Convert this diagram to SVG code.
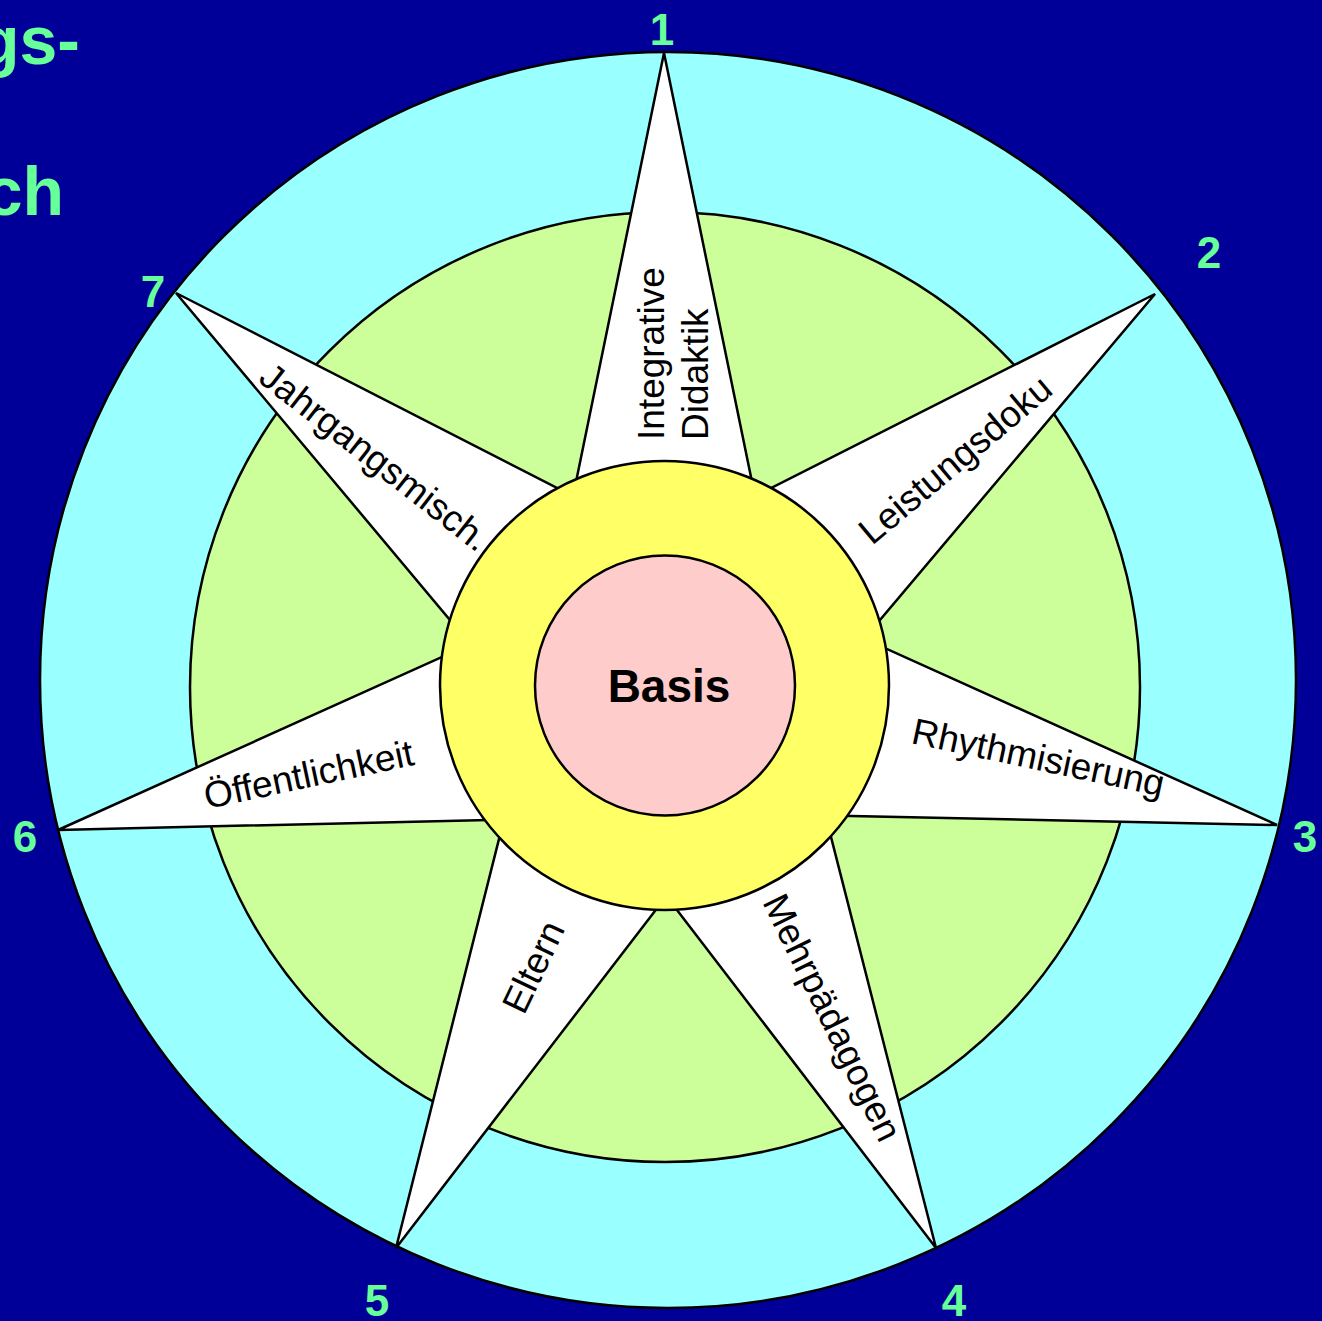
<svg xmlns="http://www.w3.org/2000/svg" width="1322" height="1321" viewBox="0 0 1322 1321">
  <style>
    .ring { stroke: #000; stroke-width: 2.5; }
    .arm { fill: #fff; stroke: #000; stroke-width: 2.5; stroke-linejoin: miter; }
    .lbl { font-family: "Liberation Sans", Arial, sans-serif; font-size: 37px; fill: #000; }
    .num { font-family: "Liberation Sans", Arial, sans-serif; font-size: 44px; font-weight: bold; fill: #66FF99; text-anchor: middle; }
    .title { font-family: "Liberation Sans", Arial, sans-serif; font-size: 68px; font-weight: bold; fill: #66FF99; text-anchor: end; }
  </style>
  <rect x="0" y="0" width="1322" height="1321" fill="#000099"/>
  <g id="title">
    <text class="title" x="80" y="64">gs-</text>
    <text class="title" x="64" y="215">ch</text>
  </g>
  <g id="outer-ring"><circle class="ring" cx="668" cy="680" r="628" fill="#99FFFF"/></g>
  <g id="middle-ring"><circle class="ring" cx="665" cy="687" r="475" fill="#CCFF99"/></g>

  <g id="arm1">
    <polygon class="arm" points="664,53 759.7,519.4 568.3,519.4"/>
    <text class="lbl" transform="translate(664,440) rotate(-90)">Integrative</text>
    <text class="lbl" transform="translate(708,440) rotate(-90)">Didaktik</text>
    <text class="num" x="662" y="45">1</text>
  </g>
  <g id="arm2">
    <polygon class="arm" points="1155,294 852.5,652.6 734.8,506.3"/>
    <text class="lbl" transform="translate(872,546) rotate(-40)">Leistungsdoku</text>
    <text class="num" x="1209" y="268">2</text>
  </g>
  <g id="arm3">
    <polygon class="arm" points="1277,825 804,815.1 848,631.4"/>
    <text class="lbl" transform="translate(910,743) rotate(12)">Rhythmisierung</text>
    <text class="num" x="1305" y="852">3</text>
  </g>
  <g id="arm4">
    <polygon class="arm" points="936,1248 651.1,876.2 820.5,795.9"/>
    <text class="lbl" transform="translate(762,902) rotate(64)">Mehrpädagogen</text>
    <text class="num" x="954" y="1316">4</text>
  </g>
  <g id="arm5">
    <polygon class="arm" points="396,1248 509.3,798.1 680.9,877.3"/>
    <text class="lbl" transform="translate(524,1016) rotate(-64.5)">Eltern</text>
    <text class="num" x="377" y="1316">5</text>
  </g>
  <g id="arm6">
    <polygon class="arm" points="58,830 480.4,639.7 527.7,819"/>
    <text class="lbl" transform="translate(207,809) rotate(-12)">Öffentlichkeit</text>
    <text class="num" x="25" y="852">6</text>
  </g>
  <g id="arm7">
    <polygon class="arm" points="176,293 595.1,507.5 477.4,652.7"/>
    <text class="lbl" transform="translate(257,381) rotate(38)">Jahrgangsmisch.</text>
    <text class="num" x="153" y="307">7</text>
  </g>

  <g id="inner-ring"><circle class="ring" cx="664.5" cy="685.5" r="224.5" fill="#FFFF66"/></g>
  <g id="basis">
    <circle class="ring" cx="665" cy="685.5" r="130" fill="#FFCCCC"/>
    <text x="669" y="702" text-anchor="middle" font-family="'Liberation Sans', Arial, sans-serif" font-size="46" font-weight="bold" fill="#000">Basis</text>
  </g>
</svg>
